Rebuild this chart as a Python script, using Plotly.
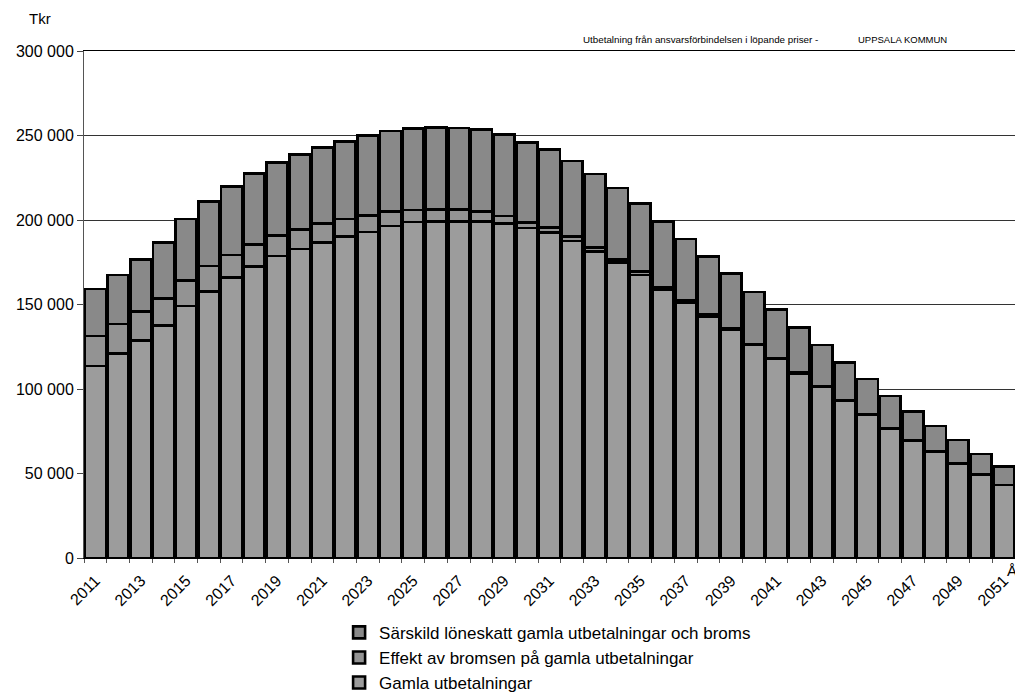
import plotly.graph_objects as go

years = list(range(2011, 2052))

gamla = [113.6, 121.1, 128.6, 137.5, 149.1, 157.6, 165.9, 172.4, 178.7, 182.8,
         186.7, 190.4, 192.8, 196.5, 198.8, 199.0, 199.2, 199.2, 197.8, 195.3,
         192.6, 187.6, 181.3, 174.8, 167.5, 159.0, 151.1, 142.8, 134.9, 126.0,
         117.8, 109.3, 101.1, 93.3, 85.0, 76.8, 69.7, 62.9, 56.0, 49.3, 43.2]
effekt = [17.8, 17.4, 17.2, 16.1, 15.0, 15.2, 13.4, 13.2, 12.0, 11.5,
          11.1, 10.2, 10.0, 8.5, 7.1, 7.3, 7.1, 5.9, 4.5, 3.1,
          2.9, 2.6, 2.6, 1.8, 2.0, 1.2, 1.2, 1.2, 0.8, 0.6,
          0.5, 0.4, 0.3, 0.2, 0.2, 0.1, 0.1, 0.1, 0.1, 0.1, 0.1]
sarskild = [27.8, 29.0, 30.9, 33.2, 36.5, 38.1, 40.4, 42.0, 43.2, 44.5,
            45.2, 45.7, 47.1, 47.7, 48.1, 48.3, 48.1, 48.3, 48.2, 47.5,
            46.3, 44.7, 43.3, 42.3, 40.1, 39.0, 36.5, 34.5, 32.5, 30.8,
            28.8, 26.8, 24.6, 22.3, 20.7, 19.0, 17.0, 15.0, 13.8, 12.2, 10.8]

names = ["Gamla utbetalningar",
         "Effekt av bromsen på gamla utbetalningar",
         "Särskild löneskatt gamla utbetalningar och broms"]
series = [gamla, effekt, sarskild]
colors = ["#9c9c9c", "#939393", "#898989"]

fig = go.Figure()
for name, vals, col in zip(names, series, colors):
    fig.add_trace(go.Bar(
        x=years, y=[v * 1000 for v in vals], name=name,
        marker=dict(color=col, line=dict(color="black", width=2.6)),
    ))

font = "Liberation Sans, Arial, sans-serif"
fig.update_layout(
    barmode="stack", bargap=0.08,
    width=1015, height=687,
    margin=dict(l=76, r=8, t=43, b=137, autoexpand=False),
    paper_bgcolor="white", plot_bgcolor="white",
    separators=", ",
    font=dict(family=font, size=16, color="black"),
    showlegend=True,
    legend=dict(orientation="v", x=0.274, xanchor="left", y=-0.112, yanchor="top",
                traceorder="reversed", font=dict(size=17), itemwidth=30,
                tracegroupgap=0, bgcolor="rgba(0,0,0,0)"),
    xaxis=dict(range=[2010.5, 2051.5], tickvals=years[::2],
               ticktext=[str(y) for y in years[::2]], tickangle=-45,
               ticks="", showgrid=False, showline=True, linecolor="black",
               linewidth=1, mirror=True, zeroline=False, automargin=False,
               ticklabelstandoff=6,
               tickfont=dict(size=16),
               minor=dict(tickvals=[y + 0.5 for y in range(2010, 2052)],
                          ticks="outside", ticklen=4, tickcolor="#555", showgrid=False)),
    yaxis=dict(range=[0, 300000], tickvals=list(range(0, 300001, 50000)),
               tickformat=",d", showgrid=True, gridcolor="#333333", gridwidth=1,
               showline=True, linecolor="#555", linewidth=1, mirror=True,
               ticks="outside", ticklen=6, tickcolor="#444", zeroline=False,
               automargin=False, tickfont=dict(size=16)),
)

fig.add_annotation(text="Tkr", xref="paper", yref="paper", x=-0.047, y=1.064,
                   xanchor="center", yanchor="middle", showarrow=False,
                   font=dict(size=15))
fig.add_annotation(text="Utbetalning från ansvarsförbindelsen i löpande priser -",
                   xref="paper", yref="paper", x=0.534, y=1.022, xanchor="left",
                   yanchor="middle", showarrow=False, font=dict(size=9.8))
fig.add_annotation(text="UPPSALA KOMMUN", xref="paper", yref="paper", x=0.8295,
                   y=1.022, xanchor="left", yanchor="middle", showarrow=False,
                   font=dict(size=9.5))
fig.add_annotation(text="År", xref="paper", yref="paper", x=1.0095, y=-0.003,
                   xanchor="right", yanchor="top", showarrow=False,
                   font=dict(size=15))

fig.write_html("out.html")
